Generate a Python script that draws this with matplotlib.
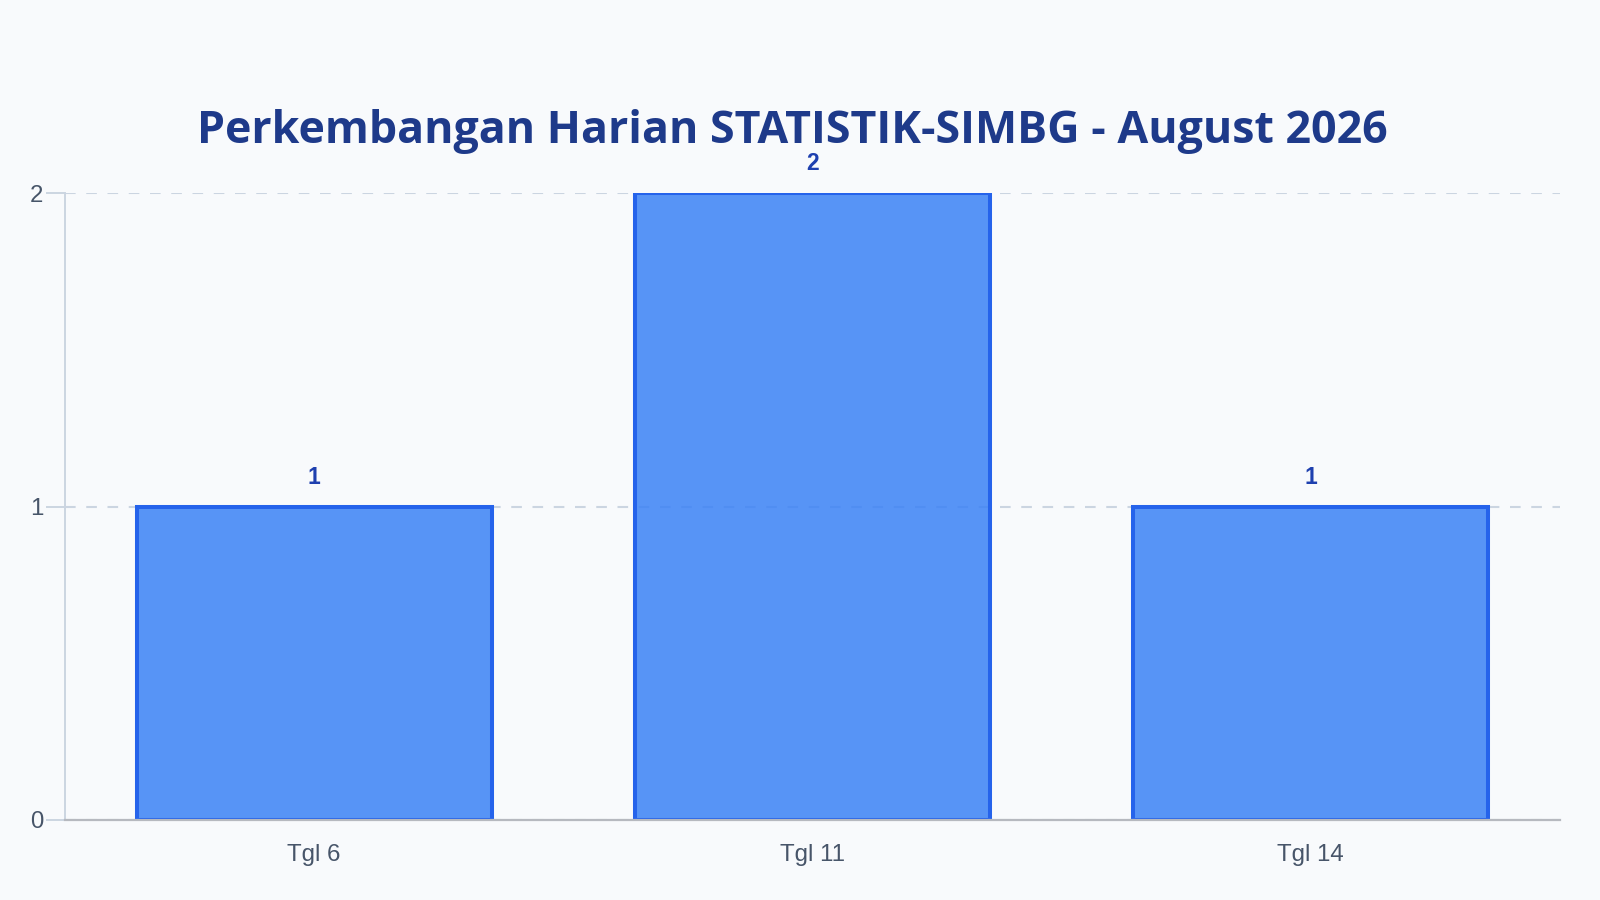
import matplotlib
matplotlib.use("Agg")
import matplotlib.pyplot as plt

# data
categories = ["Tgl 6", "Tgl 11", "Tgl 14"]
values = [1, 2, 1]
y_ticks = [0, 1, 2]
title = "Perkembangan Harian STATISTIK-SIMBG - August 2026"

BG = "#f8fafc"
GRID = "#cbd5e1"
TICK_INK = "#475569"
TITLE_INK = "#1e3a8a"
LABEL_INK = "#1e40af"
BAR_FC = (59 / 255, 130 / 255, 246 / 255, 0.85)
BAR_EC = "#2563eb"

fig = plt.figure(figsize=(16, 9), dpi=100, facecolor=BG)
ax = fig.add_axes([65 / 1600, 1 - 820 / 900, (1560 - 65) / 1600, (820 - 193) / 900])
ax.set_facecolor(BG)

x = range(len(categories))
ax.bar(x, values, width=0.712, color=BAR_FC, edgecolor=BAR_EC,
       linewidth=2.9, zorder=2)

for xi, v in zip(x, values):
    ax.annotate(str(v), xy=(xi, v), xytext=(0, 21), textcoords="offset points",
                ha="center", va="center", fontsize=16.5, fontweight="bold",
                color=LABEL_INK, family="Liberation Sans")

ax.set_xlim(-0.5, len(categories) - 0.5)
ax.set_ylim(0, 2)
ax.set_yticks(y_ticks)
ax.set_xticks(list(x))
ax.set_xticklabels(categories)

ax.grid(axis="y", color=GRID, linestyle=(0, (5.1, 5.1)), linewidth=1.5, zorder=0)
ax.set_axisbelow(True)

for s in ("top", "right"):
    ax.spines[s].set_visible(False)
ax.spines["left"].set_color(GRID)
ax.spines["left"].set_linewidth(1.4)
ax.spines["bottom"].set_color("#b6b9bf")
ax.spines["bottom"].set_linewidth(1.6)
ax.spines["bottom"].set_zorder(3)

ax.tick_params(axis="x", length=0, pad=17.5, labelsize=17.3, labelcolor=TICK_INK)
ax.tick_params(axis="y", length=14, width=1.4, color=GRID, pad=1.5,
               labelsize=17.3, labelcolor=TICK_INK)
for lab in ax.get_xticklabels() + ax.get_yticklabels():
    lab.set_family("Liberation Sans")

fig.text(792 / 1600, 1 - 143 / 900, title, ha="center", va="baseline",
         fontsize=32.2, fontweight="bold", color=TITLE_INK,
         family=["Open Sans", "Noto Sans", "DejaVu Sans"])

fig.savefig("out.png", dpi=100, facecolor=BG)
